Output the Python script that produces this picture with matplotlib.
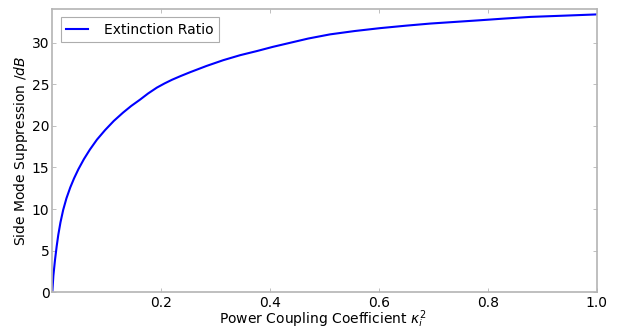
import matplotlib
matplotlib.use("Agg")
import matplotlib.pyplot as plt

# values
coupling = [0.0, 0.002, 0.005, 0.008, 0.011, 0.015, 0.020, 0.026, 0.033, 0.040, 0.048,
            0.058, 0.069, 0.082, 0.097, 0.113, 0.130, 0.145, 0.161, 0.176, 0.192, 0.206,
            0.220, 0.236, 0.253, 0.283, 0.314, 0.345, 0.376, 0.405, 0.431, 0.470, 0.510,
            0.555, 0.602, 0.650, 0.694, 0.740, 0.786, 0.830, 0.878, 0.940, 1.0]
suppression = [0.0, 2.0, 3.9, 5.5, 6.9, 8.4, 9.9, 11.3, 12.6, 13.7, 14.8,
               16.0, 17.15, 18.35, 19.5, 20.6, 21.6, 22.4, 23.15, 23.9, 24.6, 25.1,
               25.55, 26.0, 26.45, 27.2, 27.9, 28.5, 29.0, 29.5, 29.9, 30.5, 31.0,
               31.4, 31.75, 32.05, 32.3, 32.5, 32.7, 32.9, 33.1, 33.25, 33.4]

spine_gray = "#b4b4b4"

fig = plt.figure(figsize=(6.21, 3.26), dpi=100)
ax = fig.add_axes([0.0842, 0.1034, 0.877, 0.869])

ax.plot(coupling, suppression, color="b", linewidth=1.5, label="Extinction Ratio")

ax.set_xlim(0, 1.0)
ax.set_ylim(0, 34.05)
ax.set_xticks([0.2, 0.4, 0.6, 0.8, 1.0])
ax.set_yticks([0, 5, 10, 15, 20, 25, 30])

ax.tick_params(direction="in", top=True, right=True, length=3, width=0.6,
               color=spine_gray, labelsize=10)
ax.tick_params(axis="y", pad=2)
ax.tick_params(axis="x", pad=3)
for s in ax.spines.values():
    s.set_color(spine_gray)
    s.set_linewidth(1.2)

ax.set_xlabel(r"Power Coupling Coefficient $\kappa_i^2$", fontsize=10, va="top")
ax.xaxis.set_label_coords(0.496, -0.058)
ax.set_ylabel(r"Side Mode Suppression $/dB$", fontsize=10, labelpad=1)

leg = ax.legend(loc="upper left", fontsize=10, fancybox=False, handlelength=1.6,
                borderaxespad=0.6, handletextpad=1.1)
leg.get_frame().set_edgecolor("#999999")
leg.get_frame().set_linewidth(0.8)

fig.savefig("out.png", dpi=100)
